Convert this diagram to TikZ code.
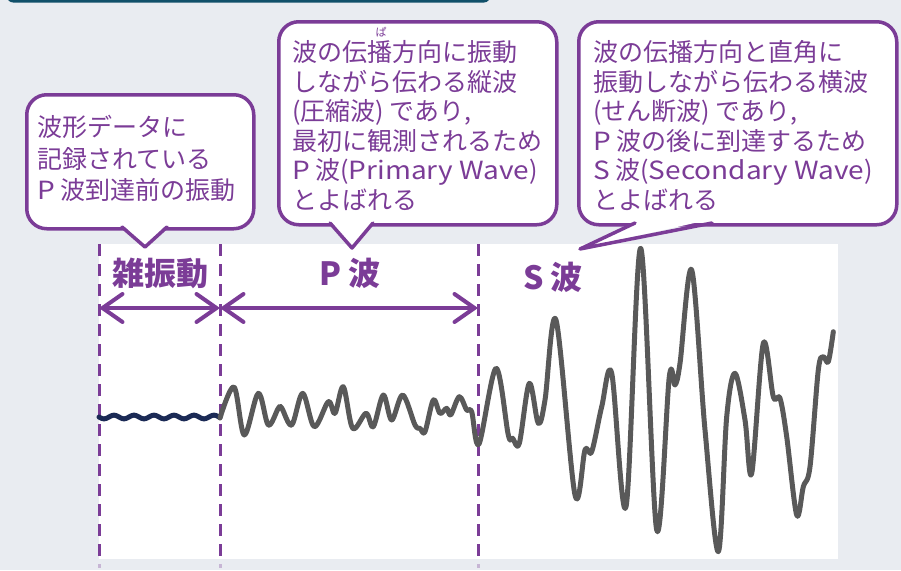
\documentclass[tikz,border=0pt]{standalone}
\usepackage{fontspec}
\setmainfont{Noto Sans CJK JP}
\newfontfamily\lat[FakeStretch=1.12]{Noto Sans CJK JP}
\usetikzlibrary{arrows.meta}
\definecolor{bg}{HTML}{E9ECF1}
\definecolor{bar}{HTML}{11506A}
\definecolor{pur}{HTML}{7B3C97}
\definecolor{wavegray}{HTML}{595959}
\definecolor{navy}{HTML}{1B2A55}
\tikzset{
  callout/.style={draw=pur, line width=3.5pt, fill=white, rounded corners=20pt, inner sep=0pt, anchor=north west},
  ptrfill/.style={fill=white},
  ptrline/.style={draw=pur, line width=3.5pt, line join=round, line cap=round},
  txt/.style={text=pur, font=\fontsize{25}{30}\selectfont, inner sep=0pt, anchor=base west},
  ruby/.style={text=pur, font=\fontsize{11}{12}\selectfont, inner sep=0pt},
  lbl/.style={text=pur, font=\fontsize{32}{36}\selectfont\bfseries, inner sep=0pt, anchor=base},
  dashline/.style={draw=pur, line width=3pt, dash pattern=on 12pt off 8pt},
  dimarrow/.style={draw=pur, line width=4pt, line cap=round, {Straight Barb[length=20pt,width=28pt,line cap=round]}-{Straight Barb[length=20pt,width=28pt,line cap=round]}},
}
\begin{document}
\begin{tikzpicture}[x=1pt,y=-1pt]
\useasboundingbox (0,0) rectangle (901,570);
\fill[bg] (0,0) rectangle (901,570);
\fill[bar, rounded corners=6pt] (7,-30) rectangle (490,2.5);
\fill[white] (99,244) rectangle (838,559);

% dashed separators
\coordinate (d0t) at (99,244);  \coordinate (d0b) at (99,556);
\coordinate (d1t) at (220,244); \coordinate (d1b) at (220,556);
\coordinate (d2t) at (478,244); \coordinate (d2b) at (478,556);
\draw[dashline] (d0t) -- (d0b);
\draw[dashline] (d1t) -- (d1b);
\draw[dashline] (d2t) -- (d2b);
\foreach \xx in {99,220,478} \draw[pur, opacity=0.3, line width=3pt] (\xx,564) -- (\xx,568);

% dimension arrows
\coordinate (a0) at (99,308);
\coordinate (a1) at (220,308);
\coordinate (a2) at (478,308);
\draw[dimarrow] (a0) -- (a1);
\draw[dimarrow] (a1) -- (a2);

% labels
\node[lbl] (l1) at (160,285) {雑振動};
\node[lbl] (l2) at (350,285) {P 波};
\node[lbl] (l3) at (553,289) {S 波};

% noise wave
\draw[navy, line width=5pt, line cap=round] plot[domain=99:220, samples=120] (\x, {417 + 1.8*sin((\x-99)*18)});

% seismic wave
\draw[wavegray, line width=5pt, line join=round, line cap=round] plot[smooth, tension=0.55] coordinates {
(220,418) (234,387) (244.3,435) (258.3,393.3) (268.3,425) (278.3,408.3) (281.7,408)
(291.7,425) (302.7,393.3) (314.3,426.7) (328.3,401.7) (335,413.3) (343.3,386.7)
(352.7,428.3) (366,413.3) (373.3,426.7) (383.3,395) (391.7,420) (402.7,395)
(415,425) (420,428.3) (425,431.7) (433.3,400) (440,413.3) (446.7,408.3) (450.7,415)
(459.3,396.7) (466.7,410) (471.7,411.7) (479,444) (496,368.3) (508.3,435)
(512.7,438.3) (519.3,443.3) (529.3,383.3) (538.3,423.3) (545,400) (556,320)
(575,495) (585,450) (591.7,451.7) (601.7,406.7) (611.7,373.3) (626,506.7)
(640.7,248.3) (656.7,530) (669.3,376.7) (675,385) (680,363.3) (691.7,270)
(705,430) (718.3,551.7) (726.7,416.7) (735,373.3) (745,420) (751.7,473.3)
(763.3,343.3) (773.3,396.7) (780,398.3) (786.7,436.7) (796.7,515) (803.3,486.7)
(810,466.7) (818.3,370) (823.3,356.7) (828.3,361.7) (833.3,331.7)};

% callout 1
\node[callout, minimum width=227pt, minimum height=134pt] (b1) at (25,93) {};
\coordinate (p1a) at (122,227); \coordinate (p1t) at (145,247); \coordinate (p1b) at (167,227);
\fill[ptrfill] (121,223) -- (p1t) -- (168,223) -- cycle;
\draw[ptrline] (p1a) -- (p1t) -- (p1b);
\node[txt] (c1a) at (37,136.5) {波形データに};
\node[txt] (c1b) at (37,168) {記録されている};
\node[txt] (c1c) at (37,199.5) {{\lat P} 波到達前の振動};

% callout 2
\node[callout, minimum width=278pt, minimum height=203pt] (b2) at (277,20) {};
\coordinate (p2a) at (330,223); \coordinate (p2t) at (352,248); \coordinate (p2b) at (373,223);
\fill[ptrfill] (329,219) -- (p2t) -- (374,219) -- cycle;
\draw[ptrline] (p2a) -- (p2t) -- (p2b);
\node[txt] (c2a) at (292,61.5) {波の伝播方向に振動};
\node[ruby] (r2) at (381,32) {ぱ};
\node[txt] (c2b) at (292,91.1) {しながら伝わる縦波};
\node[txt] (c2c) at (292,120.7) {(圧縮波) であり,};
\node[txt] (c2d) at (292,150.3) {最初に観測されるため};
\node[txt] (c2e) at (292,179.9) {{\lat P} 波({\lat Primary Wave})};
\node[txt] (c2f) at (292,209.5) {とよばれる};

% callout 3
\node[callout, minimum width=318pt, minimum height=203pt] (b3) at (577,20) {};
\coordinate (p3a) at (635,223); \coordinate (p3t) at (580,249); \coordinate (p3b) at (712,223);
\fill[ptrfill] (640,219) -- (p3t) -- (712,219) -- cycle;
\draw[ptrline] (p3a) -- (p3t) -- (p3b);
\node[txt] (c3a) at (593,61.5) {波の伝播方向と直角に};
\node[txt] (c3b) at (593,91.1) {振動しながら伝わる横波};
\node[txt] (c3c) at (593,120.7) {(せん断波) であり,};
\node[txt] (c3d) at (593,150.3) {{\lat P} 波の後に到達するため};
\node[txt] (c3e) at (593,179.9) {{\lat S} 波({\lat Secondary Wave})};
\node[txt] (c3f) at (593,209.5) {とよばれる};
\end{tikzpicture}
\end{document}
